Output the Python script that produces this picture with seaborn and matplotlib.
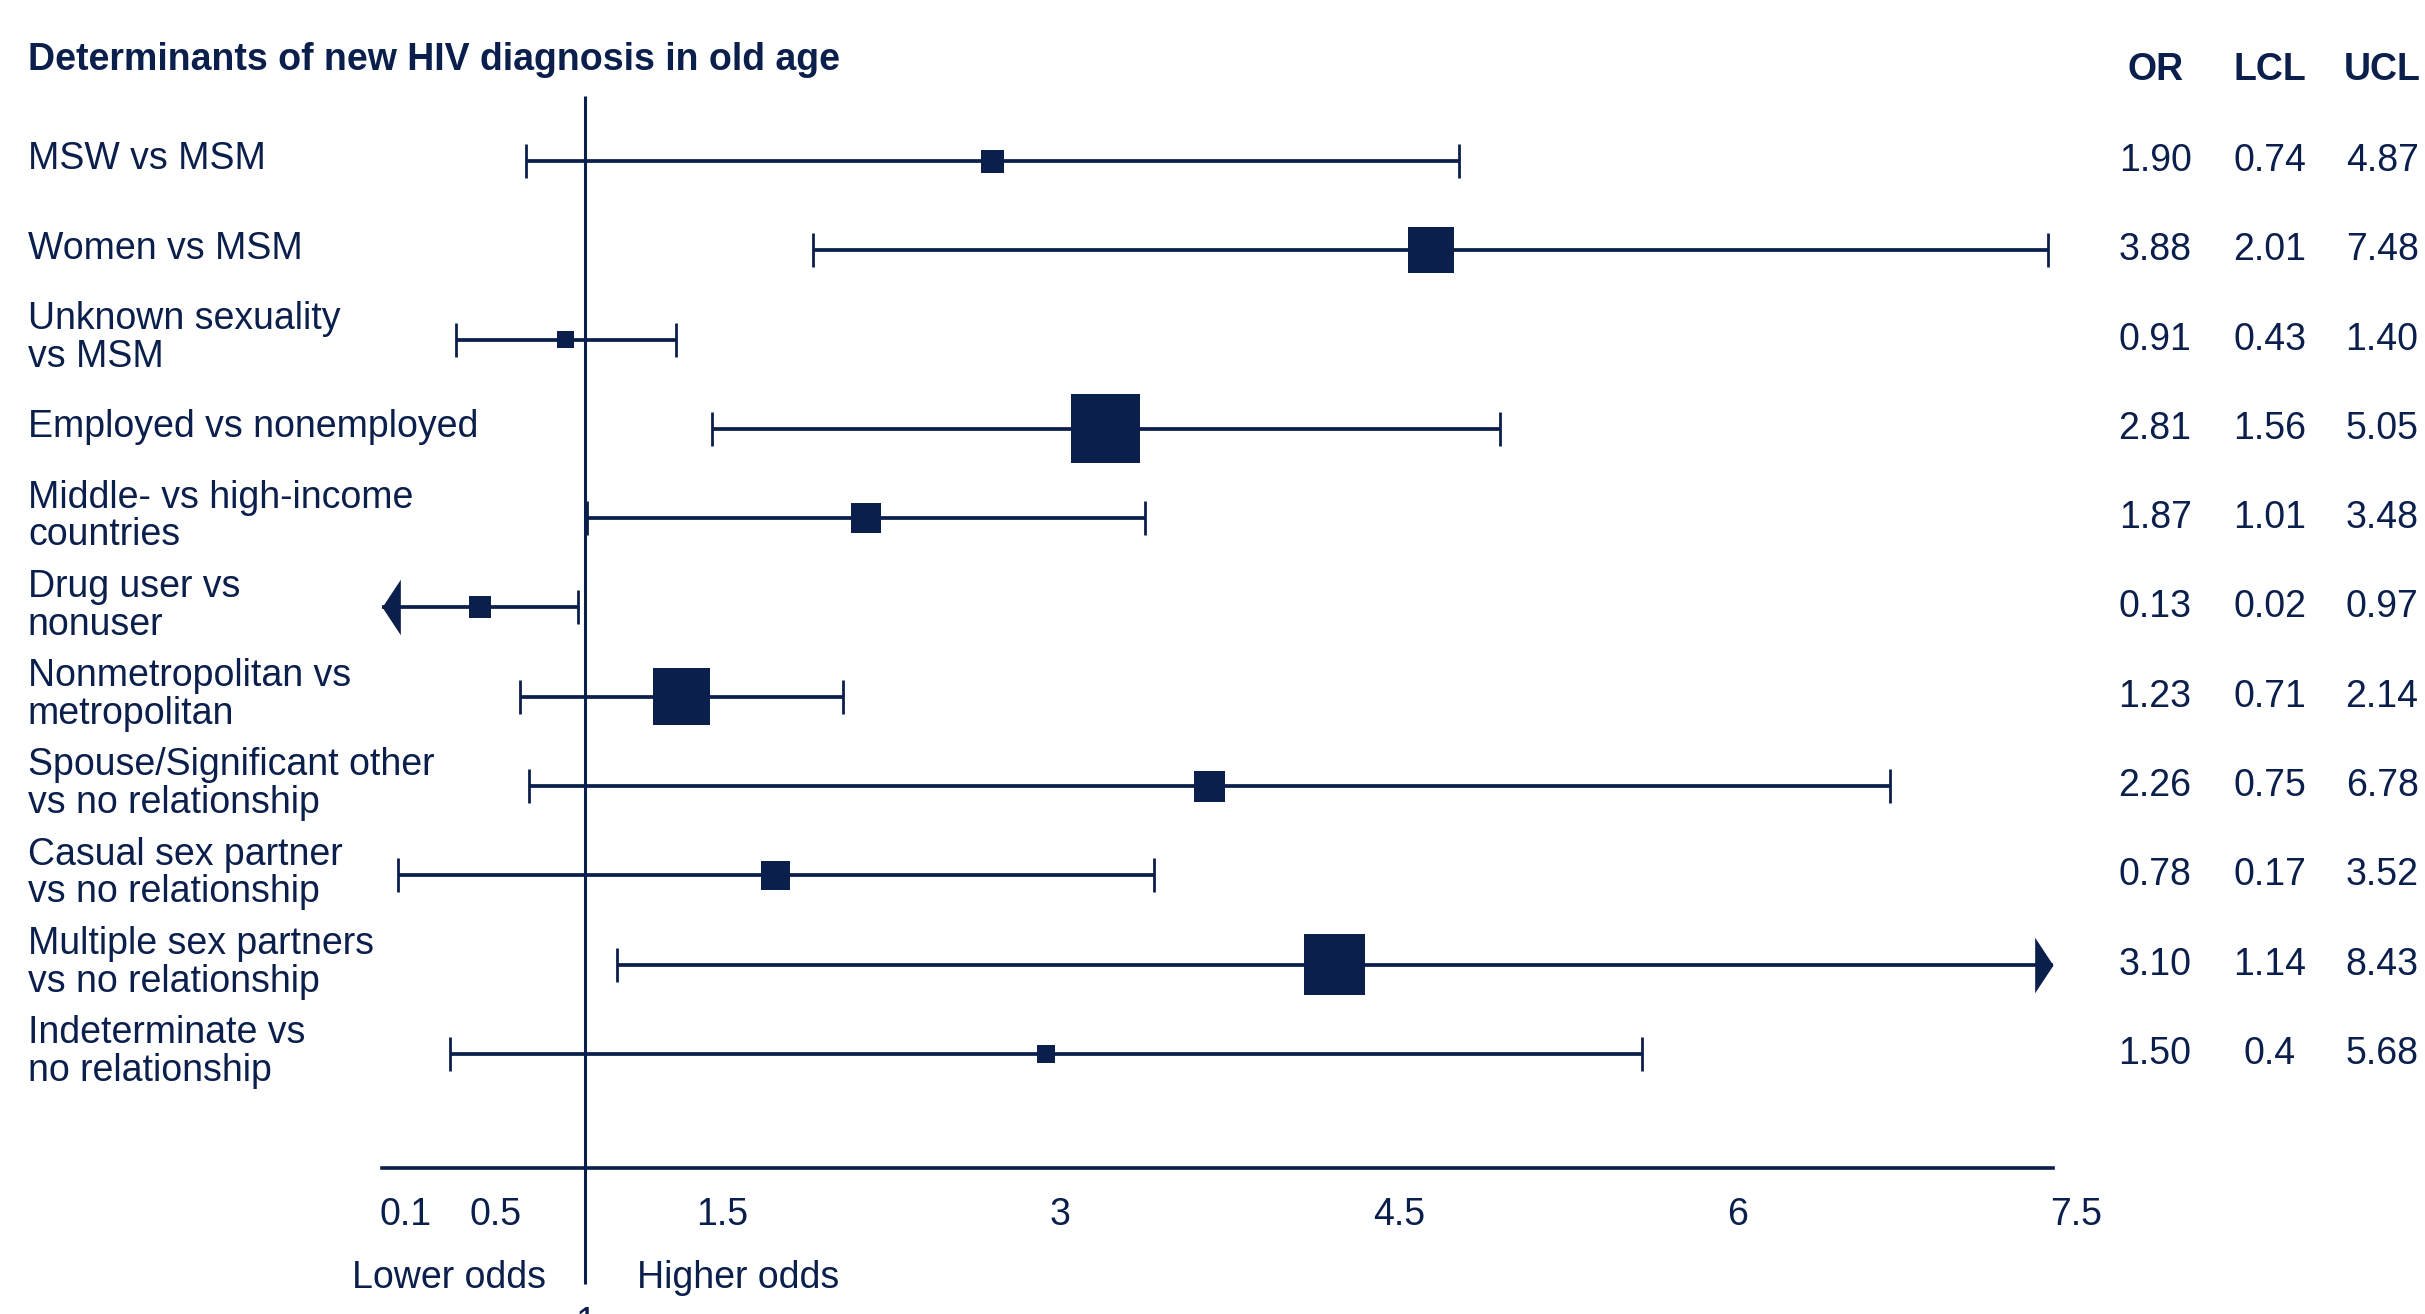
import numpy as np
import pandas as pd
import seaborn as sns
import matplotlib.pyplot as plt
from matplotlib.path import Path
from matplotlib.transforms import blended_transform_factory, ScaledTranslation

# data
labels = ["MSW vs MSM", "Women vs MSM", "Unknown sexuality\nvs MSM",
          "Employed vs nonemployed", "Middle- vs high-income\ncountries",
          "Drug user vs\nnonuser", "Nonmetropolitan vs\nmetropolitan",
          "Spouse/Significant other\nvs no relationship",
          "Casual sex partner\nvs no relationship",
          "Multiple sex partners\nvs no relationship",
          "Indeterminate vs\nno relationship"]
or_txt = ["1.90", "3.88", "0.91", "2.81", "1.87", "0.13", "1.23", "2.26", "0.78", "3.10", "1.50"]
lcl_txt = ["0.74", "2.01", "0.43", "1.56", "1.01", "0.02", "0.71", "0.75", "0.17", "1.14", "0.4"]
ucl_txt = ["4.87", "7.48", "1.40", "5.05", "3.48", "0.97", "2.14", "6.78", "3.52", "8.43", "5.68"]
weights = [23, 46, 17, 69, 30, 22, 57, 31, 29, 61, 18]  # square side, relative weight
xticks = [0.1, 0.5, 1.5, 3, 4.5, 6, 7.5]
xtick_labels = ["0.1", "0.5", "1.5", "3", "4.5", "6", "7.5"]

navy = "#0b1f4c"
xmin, xmax = 0.1, 7.5
fs = 27

df = pd.DataFrame({"label": labels, "lcl": [float(v) for v in lcl_txt],
                   "ucl": [float(v) for v in ucl_txt]})
df["row"] = np.arange(len(df))
df["lo"] = df["lcl"].clip(lower=xmin)
df["hi"] = df["ucl"].clip(upper=xmax)
df["mid"] = (df["lo"] + df["hi"]) / 2
df["s"] = (np.array(weights) * 0.72) ** 2

sns.set_theme(style="white")
plt.rcParams["font.family"] = ["Liberation Sans", "DejaVu Sans"]
plt.rcParams["text.color"] = navy

fig = plt.figure(figsize=(24.25, 13.14), dpi=100)
ax = fig.add_axes([0.1575, 0.1111, 0.6891, 0.8158])

# interval lines
ax.hlines(df["row"], df["lo"], df["hi"], color=navy, lw=2.7, zorder=2)
# caps where not clipped
caps_l = df[df["lcl"] >= xmin]
caps_r = df[df["ucl"] <= xmax]
ax.plot(caps_l["lcl"], caps_l["row"], ls="none", marker="|", ms=24, mew=2.0, color=navy, zorder=2)
ax.plot(caps_r["ucl"], caps_r["row"], ls="none", marker="|", ms=24, mew=2.0, color=navy, zorder=2)
# arrows where clipped
left_arrow = Path([(0, 0), (0.66, 1), (0.66, -1), (0, 0)])
right_arrow = Path([(0, 0), (-0.66, 1), (-0.66, -1), (0, 0)])
arr_l = df[df["lcl"] < xmin]
arr_r = df[df["ucl"] > xmax]
ax.plot(arr_l["lo"], arr_l["row"], ls="none", marker=left_arrow, ms=40, color=navy, mew=0, zorder=3)
ax.plot(arr_r["hi"], arr_r["row"], ls="none", marker=right_arrow, ms=40, color=navy, mew=0, zorder=3)

# squares
sns.scatterplot(data=df, x="mid", y="row", marker="s", s=df["s"], color=navy,
                linewidth=0, ax=ax, zorder=4, legend=False)

ax.set_xlim(xmin, xmax)
ax.set_ylim(11.28, -0.73)
ax.set_xlabel("")
ax.set_ylabel("")
ax.set_yticks([])
for sp in ["top", "left", "right"]:
    ax.spines[sp].set_visible(False)
ax.spines["bottom"].set_color(navy)
ax.spines["bottom"].set_linewidth(2.6)

ax.set_xticks(xticks, xtick_labels)
ax.tick_params(axis="x", length=0, pad=21, labelsize=fs, labelcolor=navy)
off = ScaledTranslation(17 / 72, 0, fig.dpi_scale_trans)
for t in ax.get_xticklabels():
    t.set_transform(t.get_transform() + off)

# reference line at 1
ax.vlines(1, -0.73, 12.58, color=navy, lw=2.2, clip_on=False, zorder=1)
ax.text(1, 12.83, "1", ha="center", va="top", fontsize=fs, color=navy, clip_on=False)
ax.annotate("Lower odds", xy=(1, 12.51), xytext=(-28, 0), textcoords="offset points",
            ha="right", va="center", fontsize=fs, color=navy, annotation_clip=False)
ax.annotate("Higher odds", xy=(1, 12.51), xytext=(37, 0), textcoords="offset points",
            ha="left", va="center", fontsize=fs, color=navy, annotation_clip=False)

# row labels and table
tr = blended_transform_factory(fig.transFigure, ax.transData)
for i, lab in enumerate(labels):
    ax.text(0.0115, i - 0.02, lab, transform=tr, ha="left", va="center", fontsize=fs,
            linespacing=1.06, color=navy)
    ax.text(0.8887, i, or_txt[i], transform=tr, ha="center", va="center", fontsize=fs, color=navy)
    ax.text(0.9361, i, lcl_txt[i], transform=tr, ha="center", va="center", fontsize=fs, color=navy)
    ax.text(0.9823, i, ucl_txt[i], transform=tr, ha="center", va="center", fontsize=fs, color=navy)

for x, h in zip([0.8887, 0.9361, 0.9823], ["OR", "LCL", "UCL"]):
    fig.text(x, 0.9467, h, ha="center", va="center", fontsize=fs, fontweight="bold", color=navy)
fig.text(0.0115, 0.9545, "Determinants of new HIV diagnosis in old age", ha="left", va="center",
         fontsize=fs, fontweight="bold", color=navy)

fig.savefig("out.png", dpi=100)
